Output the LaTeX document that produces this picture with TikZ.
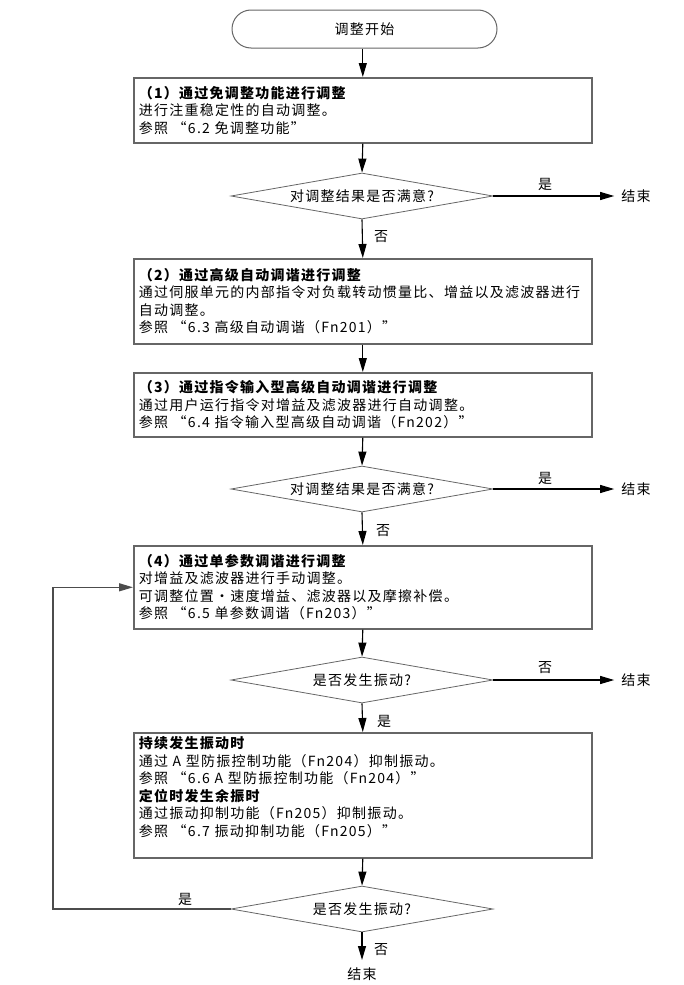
\documentclass[tikz,border=0pt]{standalone}
\usepackage{fontspec}
\setmainfont{Noto Sans CJK SC}[LetterSpace=9]
\usetikzlibrary{shapes.geometric,arrows.meta}
\begin{document}
\begin{tikzpicture}[x=1pt,y=-1pt,
  every node/.style={font=\fontsize{14}{17.5}\selectfont, text=black},
  box/.style={draw=black!60, line width=1.6pt, rectangle, text width=448pt,
    inner xsep=5pt, inner ysep=0pt, align=left, anchor=north west},
  term/.style={draw=black!60, line width=1pt, rectangle, rounded corners=19pt,
    minimum width=265pt, minimum height=38pt},
  dia/.style={draw=black!60, line width=0.8pt, diamond, aspect=5.7, inner sep=0pt,
    minimum width=262pt, minimum height=46pt},
  endn/.style={inner xsep=7pt, inner ysep=2pt},
  lbl/.style={inner sep=0pt},
  arr/.style={draw=black, line width=1.1pt, -{Triangle[length=14pt,width=8pt]}},
  looparr/.style={draw=black!70, line width=1.3pt, -{Triangle[length=14pt,width=8pt]}}
]
\useasboundingbox (0,0) rectangle (684,985);

\node[term] (s) at (364.5,29) {调整开始};

\node[box, minimum height=65pt] (b1) at (133,77)
  {\textbf{（1）通过免调整功能进行调整}\\
   进行注重稳定性的自动调整。\\
   参照 “6.2 免调整功能”};

\node[dia] (d1) at (362,196) {对调整结果是否满意?};
\node[endn] (e1) at (636,196) {结束};

\node[box, minimum height=85pt] (b2) at (133,258)
  {\textbf{（2）通过高级自动调谐进行调整}\\
   通过伺服单元的内部指令对负载转动惯量比、增益以及滤波器进行\\
   自动调整。\\
   参照 “6.3 高级自动调谐（Fn201）”};

\node[box, minimum height=64pt] (b3) at (133,372)
  {\textbf{（3）通过指令输入型高级自动调谐进行调整}\\
   通过用户运行指令对增益及滤波器进行自动调整。\\
   参照 “6.4 指令输入型高级自动调谐（Fn202）”};

\node[dia] (d2) at (362,489) {对调整结果是否满意?};
\node[endn] (e2) at (636,489) {结束};

\node[box, minimum height=83pt] (b4) at (133,545)
  {\textbf{（4）通过单参数调谐进行调整}\\
   对增益及滤波器进行手动调整。\\
   可调整位置・速度增益、滤波器以及摩擦补偿。\\
   参照 “6.5 单参数调谐（Fn203）”};

\node[dia] (d3) at (362,680) {是否发生振动?};
\node[endn] (e3) at (636,680) {结束};

\node[box, minimum height=125pt] (b5) at (133,732)
  {\textbf{持续发生振动时}\\
   通过 A 型防振控制功能（Fn204）抑制振动。\\
   参照 “6.6 A 型防振控制功能（Fn204）”\\
   \textbf{定位时发生余振时}\\
   通过振动抑制功能（Fn205）抑制振动。\\
   参照 “6.7 振动抑制功能（Fn205）”\\
   \mbox{}};

\node[dia] (d4) at (362,909) {是否发生振动?};
\node[endn, anchor=north, inner ysep=8pt] (e4) at (362,960) {结束};

\coordinate (lp) at (53,909);

% connectors
\draw[arr] (b1.north |- s.south) -- (b1.north);
\draw[arr] (b1.south) -- (d1.north);
\draw[arr] (d1.east) -- (e1.west);
\draw[arr] (d1.south) -- (b2.north);
\draw[arr] (b2.south) -- (b3.north);
\draw[arr] (b3.south) -- (d2.north);
\draw[arr] (d2.east) -- (e2.west);
\draw[arr] (d2.south) -- (b4.north);
\draw[arr] (b4.south) -- (d3.north);
\draw[arr] (d3.east) -- (e3.west);
\draw[arr] (d3.south) -- (b5.north);
\draw[arr] (b5.south) -- (d4.north);
\draw[arr] (d4.south) -- (e4.north);
\draw[looparr] (d4.west) -- (lp) |- (b4.west);

% labels
\node[lbl] (l1) at (381,237) {否};
\node[lbl] (l2) at (545,184) {是};
\node[lbl] (l3) at (545,478) {是};
\node[lbl] (l4) at (383,531) {否};
\node[lbl] (l5) at (545,668) {否};
\node[lbl] (l6) at (384,721) {是};
\node[lbl] (l7) at (185,899) {是};
\node[lbl] (l8) at (381,950) {否};
\end{tikzpicture}
\end{document}
